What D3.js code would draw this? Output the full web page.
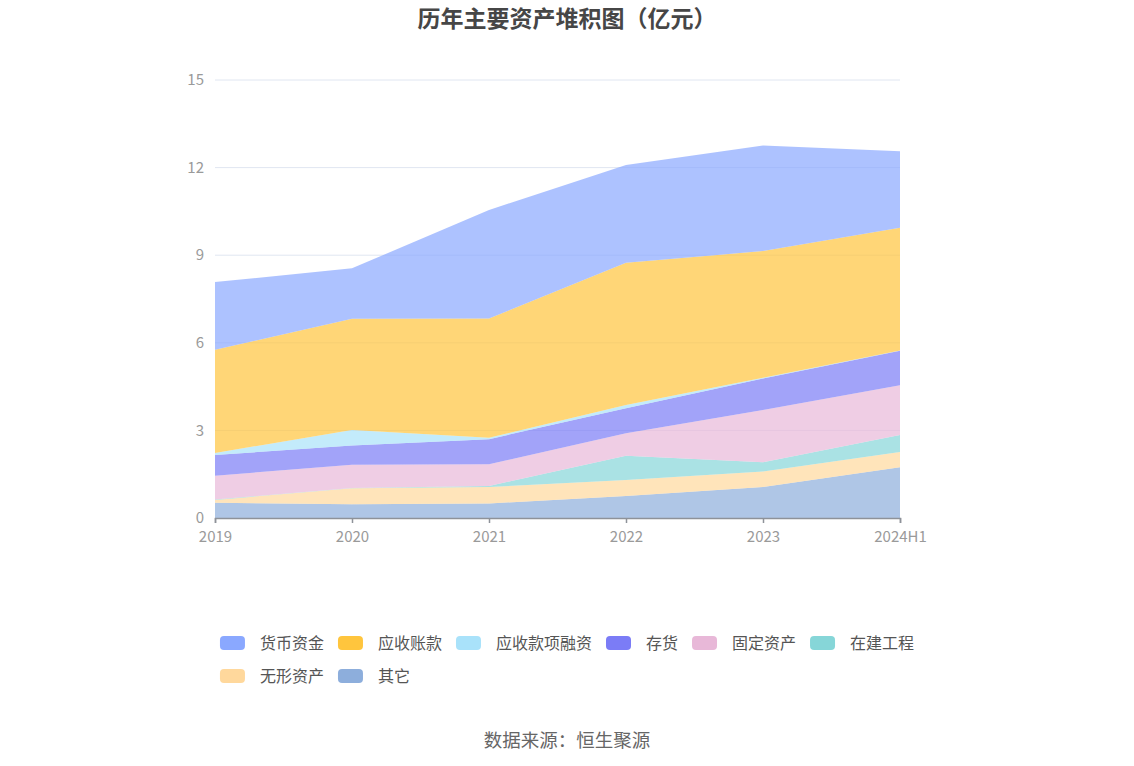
<!DOCTYPE html>
<html>
<head>
<meta charset="utf-8">
<script src="https://cdn.jsdelivr.net/npm/d3@7"></script>
<style>
  body { margin: 0; background: #fff; }
  svg { display: block; font-family: "Noto Sans CJK SC", "Noto Sans", sans-serif; }
</style>
</head>
<body>
<div id="chart"></div>
<script>
// categories and series (亿元), bottom of the stack first
var years = ['2019', '2020', '2021', '2022', '2023', '2024H1'];
var qita     = [0.52, 0.47, 0.50, 0.75, 1.06, 1.74];
var wuxing   = [0.10, 0.55, 0.56, 0.55, 0.53, 0.52];
var zaijian  = [0.01, 0.01, 0.04, 0.83, 0.32, 0.58];
var guding   = [0.82, 0.79, 0.74, 0.77, 1.79, 1.71];
var cunhuo   = [0.71, 0.66, 0.86, 0.86, 1.08, 1.18];
var rongzi   = [0.07, 0.53, 0.05, 0.11, 0.02, 0.01];
var yingshou = [3.53, 3.81, 4.08, 4.87, 4.34, 4.20];
var huobi    = [2.32, 1.73, 3.72, 3.35, 3.62, 2.62];
var yTicks = [0, 3, 6, 9, 12, 15];

var series = [
    {name: '其它', values: qita, color: '#8DAEDC'},
    {name: '无形资产', values: wuxing, color: '#FFD89C'},
    {name: '在建工程', values: zaijian, color: '#86D6D8'},
    {name: '固定资产', values: guding, color: '#E8B8D8'},
    {name: '存货', values: cunhuo, color: '#7B7CF6'},
    {name: '应收款项融资', values: rongzi, color: '#A9E2FA'},
    {name: '应收账款', values: yingshou, color: '#FFC53D'},
    {name: '货币资金', values: huobi, color: '#8AA8FF'}
];

var width = 1134, height = 766;
var margin = {top: 80, right: 234, bottom: 248, left: 215};

var svg = d3.select('#chart').append('svg')
    .attr('width', width)
    .attr('height', height);

var xScale = d3.scalePoint()
    .domain(years)
    .range([margin.left, width - margin.right]);
var yScale = d3.scaleLinear()
    .domain([0, 15])
    .range([height - margin.bottom, margin.top]);

// build stack table
var table = years.map(function(y, i) {
    var row = {year: y};
    series.forEach(function(s) { row[s.name] = s.values[i]; });
    return row;
});
var stacked = d3.stack().keys(series.map(function(s) { return s.name; }))(table);

// grid
svg.append('g')
    .selectAll('line')
    .data(yTicks.slice(1))
    .enter().append('line')
    .attr('x1', margin.left)
    .attr('x2', width - margin.right)
    .attr('y1', function(d) { return yScale(d); })
    .attr('y2', function(d) { return yScale(d); })
    .attr('stroke', '#E0E6F1')
    .attr('stroke-width', 1);

var area = d3.area()
    .x(function(d) { return xScale(d.data.year); })
    .y0(function(d) { return yScale(d[0]); })
    .y1(function(d) { return yScale(d[1]); });

svg.append('g')
    .selectAll('path')
    .data(stacked)
    .enter().append('path')
    .attr('d', area)
    .attr('fill', function(d, i) { return series[i].color; })
    .attr('fill-opacity', 0.7);

// y axis labels
svg.append('g')
    .selectAll('text')
    .data(yTicks)
    .enter().append('text')
    .attr('x', margin.left - 11)
    .attr('y', function(d) { return yScale(d); })
    .attr('dy', '0.35em')
    .attr('text-anchor', 'end')
    .attr('fill', '#9A9A9A')
    .style('font-size', '15px')
    .text(function(d) { return d; });

// x axis
var xAxis = svg.append('g')
    .attr('transform', 'translate(0,' + (height - margin.bottom) + ')')
    .call(d3.axisBottom(xScale).tickSize(5).tickPadding(8));
xAxis.select('.domain').attr('stroke', '#8E9299').attr('stroke-width', 1.5);
xAxis.selectAll('.tick line').attr('stroke', '#8E9299').attr('stroke-width', 1.5);
xAxis.selectAll('.tick text')
    .attr('fill', '#9A9A9A')
    .style('font-size', '15px')
    .style('font-family', '"Noto Sans CJK SC", "Noto Sans", sans-serif');

// title
svg.append('text')
    .attr('x', width / 2)
    .attr('y', 27)
    .attr('text-anchor', 'middle')
    .attr('fill', '#464646')
    .style('font-size', '23px')
    .style('font-weight', 'bold')
    .text('历年主要资产堆积图（亿元）');

// legend, reversed order, two rows
var legendItems = series.slice().reverse();
var legend = svg.append('g');
var perRow = 6, iconW = 25, iconH = 14, textGap = 15, itemGap = 14;
var rows = [legendItems.slice(0, perRow), legendItems.slice(perRow)];
var measure = svg.append('text').style('font-size', '16px');
function textWidth(t) {
    measure.text(t);
    return measure.node().getComputedTextLength();
}
var row0Width = 0;
rows[0].forEach(function(d, i) {
    row0Width += iconW + textGap + textWidth(d.name) + (i < rows[0].length - 1 ? itemGap : 0);
});
var startX = (width - row0Width) / 2;
rows.forEach(function(row, r) {
    var x = startX;
    var cy = 643 + r * 33;
    row.forEach(function(d) {
        legend.append('rect')
            .attr('x', x)
            .attr('y', cy - iconH / 2)
            .attr('width', iconW)
            .attr('height', iconH)
            .attr('rx', 4)
            .attr('fill', d.color);
        legend.append('text')
            .attr('x', x + iconW + textGap)
            .attr('y', cy)
            .attr('dy', '0.35em')
            .attr('fill', '#555')
            .style('font-size', '16px')
            .text(d.name);
        x += iconW + textGap + textWidth(d.name) + itemGap;
    });
});
measure.remove();

// source
svg.append('text')
    .attr('x', width / 2)
    .attr('y', 741)
    .attr('dy', '0.35em')
    .attr('text-anchor', 'middle')
    .attr('fill', '#666')
    .style('font-size', '18.5px')
    .text('数据来源：恒生聚源');
</script>
</body>
</html>
